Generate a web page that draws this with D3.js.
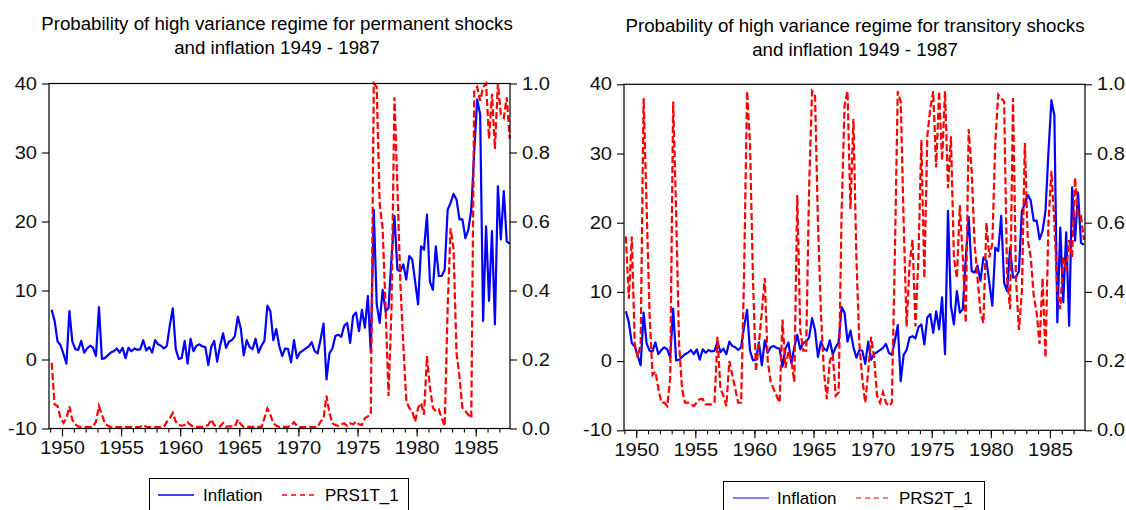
<!DOCTYPE html>
<html><head><meta charset="utf-8">
<script src="https://cdn.jsdelivr.net/npm/d3@7"></script>
<style>
body{margin:0;background:#fff;}
svg{display:block;font-family:"Liberation Sans",Arial,sans-serif;}
</style></head><body>
<svg id="chart" width="1126" height="510"></svg>
<script>
// ---------- data ----------
const quarters = [];
for (let y = 1949; y <= 1987; y++) for (let q = 1; q <= 4; q++) quarters.push(y + "Q" + q);

const inflation = [
 7.2, 5.6, 2.6, 2.1, 0.8, -0.6, 7.0, 2.6, 1.5, 1.4,
 2.7, 1.0, 1.6, 2.0, 1.7, 0.5, 7.6, 0.1, 0.2, 0.6,
 1.0, 1.2, 1.6, 1.0, 1.7, 0.2, 1.7, 1.2, 1.6, 1.4,
 1.5, 2.8, 1.3, 1.8, 1.0, 2.8, 2.2, 2.0, 1.6, 2.0,
 5.0, 7.4, 1.5, 0.1, 0.2, 2.7, -0.6, 3.0, 1.2, 2.0,
 2.2, 1.9, 1.8, -0.8, 1.8, 2.7, -0.3, 2.0, 3.8, 1.7,
 2.6, 2.8, 3.4, 6.2, 4.5, 0.6, 2.8, 1.8, 1.5, 3.0,
 1.0, 2.0, 2.7, 7.8, 7.0, 2.8, 4.4, 2.0, 0.5, 1.6,
 1.5, -0.4, 2.8, 0.2, 1.0, 1.3, 1.6, 1.9, 2.5, 1.2,
 0.9, 2.9, 5.2, -2.9, 0.9, 1.6, 3.4, 3.6, 3.3, 4.9,
 5.3, 2.4, 6.3, 6.8, 4.1, 7.2, 4.6, 9.2, 1.0, 21.7,
 8.0, 5.3, 10.1, 7.0, 7.5, 14.7, 20.8, 13.0, 12.8, 13.8,
 11.6, 15.0, 14.5, 11.3, 8.0, 16.4, 15.9, 21.0, 11.3, 10.1,
 16.4, 12.1, 12.1, 13.0, 21.7, 22.7, 24.0, 23.2, 20.3, 20.3,
 17.6, 18.8, 21.7, 30.2, 37.7, 35.5, 5.6, 19.3, 8.5, 18.6,
 5.1, 25.1, 17.4, 24.4, 17.1, 16.8
];

const prs1 = [
 0.19, 0.07, 0.065, 0.03, 0.016, 0.03, 0.064, 0.025, 0.012, 0.006,
 0.004, 0.004, 0.004, 0.004, 0.005, 0.02, 0.065, 0.04, 0.015, 0.008,
 0.004, 0.003, 0.004, 0.004, 0.003, 0.004, 0.004, 0.005, 0.004, 0.004,
 0.005, 0.01, 0.005, 0.004, 0.004, 0.004, 0.004, 0.004, 0.005, 0.02,
 0.03, 0.045, 0.02, 0.01, 0.008, 0.01, 0.018, 0.01, 0.005, 0.005,
 0.005, 0.005, 0.008, 0.01, 0.026, 0.01, 0.006, 0.006, 0.016, 0.005,
 0.006, 0.006, 0.006, 0.026, 0.012, 0.005, 0.005, 0.005, 0.005, 0.005,
 0.005, 0.005, 0.03, 0.058, 0.04, 0.016, 0.008, 0.005, 0.005, 0.005,
 0.005, 0.008, 0.018, 0.008, 0.004, 0.004, 0.004, 0.004, 0.004, 0.004,
 0.004, 0.02, 0.03, 0.095, 0.045, 0.015, 0.01, 0.008, 0.012, 0.015,
 0.008, 0.015, 0.012, 0.02, 0.012, 0.01, 0.03, 0.035, 0.04, 1.0,
 0.99, 0.65, 0.58, 0.35, 0.094, 0.35, 0.96, 0.7, 0.42, 0.24,
 0.08, 0.06, 0.05, 0.02, 0.06, 0.074, 0.04, 0.21, 0.12, 0.06,
 0.05, 0.055, 0.03, 0.007, 0.35, 0.58, 0.52, 0.22, 0.15, 0.06,
 0.05, 0.04, 0.03, 0.98, 0.99, 0.95, 0.99, 1.0, 0.84, 0.97,
 0.81, 1.0, 0.91, 0.9, 0.96, 0.84
];

const prs2 = [
 0.56, 0.38, 0.56, 0.25, 0.21, 0.25, 0.96, 0.65, 0.34, 0.16,
 0.17, 0.12, 0.08, 0.08, 0.07, 0.15, 0.95, 0.63, 0.25, 0.12,
 0.08, 0.08, 0.075, 0.07, 0.08, 0.09, 0.09, 0.075, 0.075, 0.075,
 0.08, 0.27, 0.12, 0.1, 0.07, 0.2, 0.16, 0.12, 0.08, 0.08,
 0.45, 0.98, 0.83, 0.44, 0.17, 0.25, 0.34, 0.44, 0.2, 0.14,
 0.12, 0.1, 0.08, 0.32, 0.18, 0.23, 0.2, 0.14, 0.68, 0.29,
 0.23, 0.23, 0.7, 0.98, 0.97, 0.6, 0.34, 0.17, 0.09, 0.2,
 0.22, 0.1, 0.11, 0.63, 0.94, 0.98, 0.64, 0.9, 0.5, 0.25,
 0.15, 0.08, 0.17, 0.27, 0.21, 0.1, 0.08, 0.11, 0.08, 0.07,
 0.08, 0.5, 0.98, 0.95, 0.6, 0.3, 0.48, 0.55, 0.3, 0.5,
 0.84, 0.44, 0.85, 0.93, 0.98, 0.76, 0.98, 0.78, 0.98, 0.7,
 0.85, 0.5, 0.44, 0.65, 0.5, 0.31, 0.87, 0.75, 0.54, 0.44,
 0.34, 0.31, 0.6, 0.5, 0.54, 0.83, 0.97, 0.96, 0.95, 0.44,
 0.35, 0.96, 0.44, 0.29, 0.4, 0.83, 0.55, 0.5, 0.39, 0.34,
 0.25, 0.44, 0.21, 0.6, 0.75, 0.6, 0.4, 0.35, 0.5, 0.46,
 0.55, 0.5, 0.73, 0.62, 0.62, 0.55
];

const xMajorTicks = [1950, 1955, 1960, 1965, 1970, 1975, 1980, 1985];
const xMinorTicks = d3.range(1949, 1988);
const leftTicks = [-10, 0, 10, 20, 30, 40];
const rightTicks = [0, 0.2, 0.4, 0.6, 0.8, 1.0];
const title1 = ["Probability of high variance regime for permanent shocks", "and inflation 1949 - 1987"];
const title2 = ["Probability of high variance regime for transitory shocks", "and inflation 1949 - 1987"];
const names1 = ["Inflation", "PRS1T_1"];
const names2 = ["Inflation", "PRS2T_1"];

// ---------- drawing ----------
const svg = d3.select("#chart");
const BLUE = "#0000ff", RED = "#ff0000";
const FS = 17.5, SX = 1.15, LFS = 17;
const tq = quarters.map(s => +s.slice(0, 4) + (+s.slice(5) - 1) / 4 + 0.125);

function panel(cfg, prs, titles, names) {
  const g = svg.append("g");
  const x = d3.scaleLinear().domain(cfg.xd).range([cfg.x0, cfg.x1]);
  const yL = d3.scaleLinear().domain([-10, 40]).range([cfg.y1, cfg.y0]);
  const yR = d3.scaleLinear().domain([0, 1]).range([cfg.y1, cfg.y0]);

  // titles
  titles.forEach((t, k) => {
    g.append("text").attr("x", cfg.tx).attr("y", cfg.ty + k * 23.5)
      .attr("text-anchor", "middle").attr("font-size", cfg.tfs).attr("fill", "#000").text(t);
  });

  // series
  g.append("path").datum(inflation)
    .attr("fill", "none").attr("stroke", BLUE).attr("stroke-width", 2.2)
    .attr("stroke-linejoin", "round")
    .attr("d", d3.line().x((d, i) => x(tq[i])).y(d => yL(d)));
  g.append("path").datum(prs)
    .attr("fill", "none").attr("stroke", RED).attr("stroke-width", 2.2)
    .attr("stroke-dasharray", "7,3")
    .attr("d", d3.line().x((d, i) => x(tq[i])).y(d => yR(d)));

  // frame
  g.append("rect").attr("x", cfg.x0).attr("y", cfg.y0)
    .attr("width", cfg.x1 - cfg.x0).attr("height", cfg.y1 - cfg.y0)
    .attr("fill", "none").attr("stroke", "#000").attr("stroke-width", 1.2);

  const style = sel => {
    sel.select(".domain").remove();
    sel.selectAll("line").attr("stroke", "#000").attr("stroke-width", 1.1);
    sel.selectAll("text").attr("font-size", FS).attr("fill", "#111")
      .each(function () {
        const xx = +this.getAttribute("x") || 0;
        this.setAttribute("transform", `translate(${xx},0) scale(${SX},1) translate(${-xx},0)`);
      });
    sel.attr("font-family", null).attr("font-size", null);
  };

  g.append("g").attr("transform", `translate(${cfg.x0},0)`)
    .call(d3.axisLeft(yL).tickValues(leftTicks).tickSize(7).tickPadding(5).tickFormat(d => String(d)))
    .call(style);
  g.append("g").attr("transform", `translate(${cfg.x1},0)`)
    .call(d3.axisRight(yR).tickValues(rightTicks).tickSize(7).tickPadding(5).tickFormat(d => d.toFixed(1)))
    .call(style);
  g.append("g").attr("transform", `translate(0,${cfg.y1})`)
    .call(d3.axisBottom(x).tickValues(xMinorTicks).tickSize(4).tickFormat(""))
    .call(style);
  g.append("g").attr("transform", `translate(0,${cfg.y1})`)
    .call(d3.axisBottom(x).tickValues(xMajorTicks).tickSize(8).tickPadding(5).tickFormat(d => String(d)))
    .call(style);

  // legend
  const L = cfg.leg;
  g.append("rect").attr("x", L.x).attr("y", L.y).attr("width", L.w).attr("height", 40)
    .attr("fill", "#fff").attr("stroke", "#000").attr("stroke-width", 1);
  g.append("line").attr("x1", L.l1).attr("x2", L.l1 + 36).attr("y1", L.ly).attr("y2", L.ly)
    .attr("stroke", BLUE).attr("stroke-width", L.sw);
  g.append("text").attr("x", L.t1).attr("y", L.ly + 6).attr("font-size", LFS).text(names[0]);
  g.append("line").attr("x1", L.l2).attr("x2", L.l2 + 35).attr("y1", L.ly).attr("y2", L.ly)
    .attr("stroke", RED).attr("stroke-width", L.sw).attr("stroke-dasharray", "5,4");
  g.append("text").attr("x", L.t2).attr("y", L.ly + 6).attr("font-size", LFS).text(names[1]);
}

panel({x0: 49, x1: 510, y0: 83.5, y1: 428.5, xd: [1948.9, 1987.9], tx: 277, ty: 30, tfs: 18.7,
       leg: {x: 149.5, y: 478.5, w: 259, ly: 495, l1: 158, t1: 203, l2: 282, t2: 325, sw: 1.5}},
      prs1, title1, names1);
panel({x0: 624, x1: 1085, y0: 84.3, y1: 430.3, xd: [1948.966, 1987.966], tx: 855, ty: 32, tfs: 18.7,
       leg: {x: 723.5, y: 481.5, w: 261, ly: 498, l1: 733, t1: 777, l2: 856, t2: 899, sw: 1.2}},
      prs2, title2, names2);
</script>
</body></html>
